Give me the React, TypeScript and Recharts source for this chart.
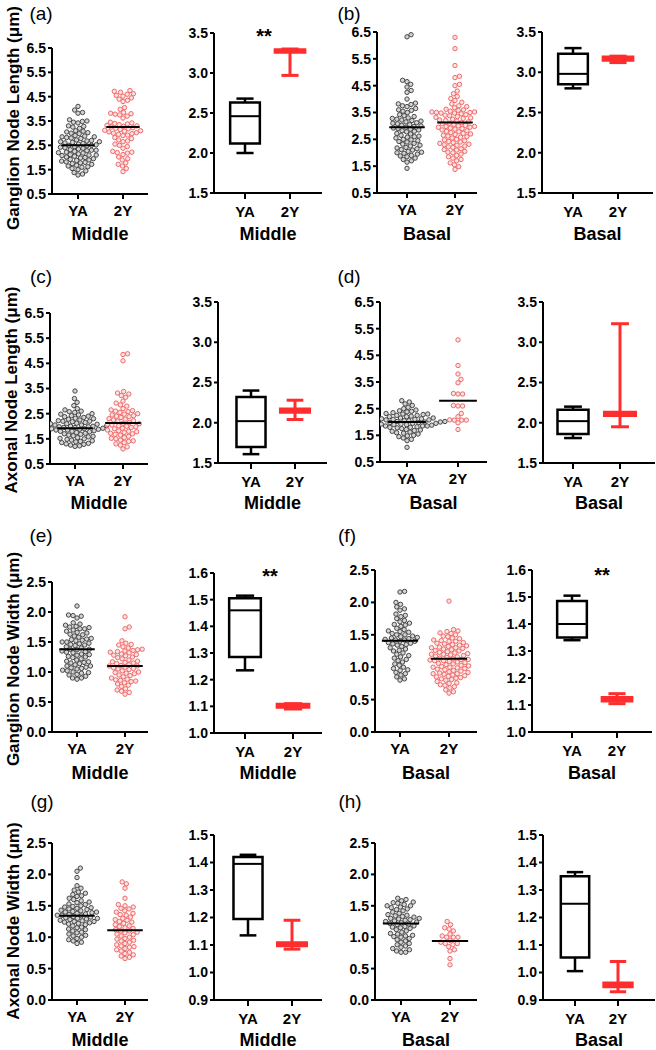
import React from "react";
import {ScatterChart, Scatter, XAxis, YAxis, ReferenceLine, ReferenceArea} from "recharts";

const categories = ["YA", "2Y"];

// tick values
const lengthTicks = [0.5, 1.5, 2.5, 3.5, 4.5, 5.5, 6.5];
const widthTicks = [0, 0.5, 1, 1.5, 2, 2.5];
const lengthBoxTicks = [1.5, 2, 2.5, 3, 3.5];
const ganglionWidthBoxTicks = [1, 1.1, 1.2, 1.3, 1.4, 1.5, 1.6];
const axonalWidthBoxTicks = [0.9, 1, 1.1, 1.2, 1.3, 1.4, 1.5];

// individual nodes (µm)
const ganglionLengthMiddleYA = [
  4.1, 3.95, 3.85, 3.82, 3.55, 3.5, 3.48, 3.45, 3.42, 3.3, 3.28, 3.25, 3.2,
  3.1, 3.08, 3.05, 3.02, 3.0, 2.98, 2.9, 2.88, 2.85, 2.85, 2.82, 2.8, 2.78,
  2.72, 2.7, 2.68, 2.65, 2.65, 2.62, 2.6, 2.58, 2.55, 2.52, 2.5, 2.5, 2.48,
  2.45, 2.42, 2.4, 2.38, 2.35, 2.32, 2.3, 2.3, 2.28, 2.25, 2.22, 2.2, 2.18,
  2.15, 2.12, 2.1, 2.1, 2.08, 2.05, 2.02, 2.0, 1.98, 1.95, 1.92, 1.9, 1.88,
  1.85, 1.82, 1.8, 1.78, 1.75, 1.72, 1.68, 1.65, 1.62, 1.6, 1.55, 1.5, 1.45,
  1.38, 1.32, 1.28
];
const ganglionLengthMiddle2Y = [
  4.75, 4.72, 4.68, 4.62, 4.6, 4.55, 4.52, 4.45, 4.4, 4.35, 4.3, 4.05, 3.98,
  3.85, 3.82, 3.8, 3.78, 3.75, 3.7, 3.62, 3.45, 3.42, 3.4, 3.38, 3.35, 3.32,
  3.3, 3.28, 3.25, 3.22, 3.2, 3.18, 3.15, 3.12, 3.1, 3.08, 3.05, 3.02, 3.0,
  2.98, 2.95, 2.92, 2.9, 2.82, 2.78, 2.72, 2.68, 2.65, 2.55, 2.5, 2.45, 2.38,
  2.25, 2.22, 2.2, 2.18, 2.12, 2.02, 1.95, 1.9, 1.78, 1.72, 1.65, 1.55, 1.42
];
const ganglionLengthBasalYA = [
  6.4, 6.32, 4.7, 4.65, 4.55, 4.45, 4.32, 4.25, 4.0, 3.85, 3.82, 3.8, 3.75,
  3.72, 3.65, 3.6, 3.58, 3.55, 3.5, 3.42, 3.38, 3.35, 3.3, 3.28, 3.25, 3.22,
  3.2, 3.18, 3.15, 3.12, 3.1, 3.08, 3.05, 3.02, 3.0, 2.98, 2.95, 2.92, 2.9,
  2.88, 2.85, 2.82, 2.8, 2.78, 2.72, 2.7, 2.65, 2.62, 2.6, 2.58, 2.55, 2.5,
  2.48, 2.45, 2.42, 2.4, 2.35, 2.32, 2.28, 2.25, 2.2, 2.18, 2.15, 2.12, 2.1,
  2.05, 2.02, 2.0, 1.98, 1.95, 1.9, 1.88, 1.85, 1.8, 1.75, 1.7, 1.65, 1.42
];
const ganglionLengthBasal2Y = [
  6.3, 5.88, 5.25, 4.85, 4.8, 4.55, 4.5, 4.3, 4.2, 4.1, 4.02, 3.95, 3.88,
  3.82, 3.75, 3.72, 3.68, 3.62, 3.6, 3.58, 3.55, 3.55, 3.52, 3.52, 3.5, 3.5,
  3.48, 3.48, 3.45, 3.42, 3.4, 3.38, 3.35, 3.32, 3.3, 3.28, 3.25, 3.22, 3.2,
  3.18, 3.15, 3.12, 3.1, 3.08, 3.05, 3.02, 3.0, 2.98, 2.98, 2.95, 2.95, 2.92,
  2.9, 2.88, 2.85, 2.82, 2.8, 2.78, 2.75, 2.72, 2.7, 2.68, 2.65, 2.62, 2.6,
  2.58, 2.55, 2.5, 2.48, 2.45, 2.42, 2.4, 2.38, 2.35, 2.32, 2.3, 2.28, 2.25,
  2.22, 2.2, 2.15, 2.12, 2.1, 2.05, 2.02, 2.0, 1.95, 1.9, 1.85, 1.8, 1.75,
  1.7, 1.62, 1.55, 1.48, 1.38
];
const axonalLengthMiddleYA = [
  3.4, 3.1, 2.95, 2.82, 2.7, 2.65, 2.6, 2.58, 2.55, 2.5, 2.48, 2.45, 2.42,
  2.4, 2.38, 2.35, 2.32, 2.3, 2.28, 2.25, 2.22, 2.2, 2.2, 2.18, 2.15, 2.12,
  2.1, 2.1, 2.08, 2.05, 2.05, 2.02, 2.0, 2.0, 1.98, 1.98, 1.95, 1.95, 1.92,
  1.92, 1.9, 1.9, 1.88, 1.88, 1.85, 1.85, 1.82, 1.8, 1.8, 1.78, 1.75, 1.72,
  1.7, 1.68, 1.65, 1.62, 1.6, 1.58, 1.55, 1.52, 1.5, 1.48, 1.45, 1.42, 1.4,
  1.38, 1.35, 1.32, 1.3, 1.28, 1.25, 1.22, 1.2
];
const axonalLengthMiddle2Y = [
  4.88, 4.85, 4.6, 3.38, 3.32, 3.28, 3.22, 3.15, 3.0, 2.92, 2.85, 2.8, 2.7,
  2.65, 2.62, 2.6, 2.58, 2.55, 2.5, 2.48, 2.45, 2.42, 2.4, 2.38, 2.35, 2.3,
  2.28, 2.25, 2.22, 2.2, 2.15, 2.12, 2.1, 2.08, 2.05, 2.02, 2.0, 1.98, 1.95,
  1.92, 1.9, 1.85, 1.82, 1.8, 1.78, 1.75, 1.72, 1.7, 1.68, 1.65, 1.6, 1.55,
  1.52, 1.5, 1.45, 1.42, 1.4, 1.35, 1.3, 1.25, 1.18, 1.1
];
const axonalLengthBasalYA = [
  2.8, 2.75, 2.68, 2.62, 2.55, 2.5, 2.45, 2.42, 2.4, 2.38, 2.35, 2.32, 2.3,
  2.3, 2.28, 2.25, 2.25, 2.22, 2.2, 2.2, 2.18, 2.15, 2.15, 2.12, 2.12, 2.1,
  2.1, 2.08, 2.08, 2.05, 2.05, 2.02, 2.02, 2.0, 2.0, 2.0, 1.98, 1.98, 1.95,
  1.95, 1.95, 1.92, 1.92, 1.9, 1.9, 1.88, 1.85, 1.85, 1.85, 1.82, 1.8, 1.8,
  1.78, 1.75, 1.72, 1.7, 1.68, 1.65, 1.62, 1.6, 1.58, 1.55, 1.5, 1.48, 1.45,
  1.4, 1.35, 1.3, 1.05
];
const axonalLengthBasal2Y = [
  5.08, 4.12, 3.8, 3.6, 3.47, 3.07, 3.05, 3.05, 2.62, 2.6, 2.6, 2.32, 2.2,
  2.08, 2.07, 2.07, 2.07, 1.97, 1.72
];
const ganglionWidthMiddleYA = [
  2.1, 1.95, 1.94, 1.93, 1.9, 1.82, 1.8, 1.78, 1.76, 1.75, 1.74, 1.72, 1.72,
  1.7, 1.68, 1.66, 1.65, 1.63, 1.62, 1.6, 1.58, 1.56, 1.55, 1.54, 1.53, 1.52,
  1.5, 1.5, 1.48, 1.47, 1.46, 1.45, 1.44, 1.42, 1.4, 1.38, 1.38, 1.37, 1.35,
  1.34, 1.33, 1.32, 1.3, 1.29, 1.28, 1.26, 1.25, 1.24, 1.22, 1.2, 1.18, 1.17,
  1.16, 1.15, 1.14, 1.12, 1.1, 1.1, 1.08, 1.07, 1.06, 1.05, 1.03, 1.02, 1.0,
  0.99, 0.98, 0.96, 0.95, 0.93, 0.9, 0.9, 0.88
];
const ganglionWidthMiddle2Y = [
  1.92, 1.75, 1.72, 1.52, 1.48, 1.46, 1.45, 1.42, 1.4, 1.38, 1.37, 1.36, 1.35,
  1.34, 1.33, 1.32, 1.3, 1.29, 1.28, 1.27, 1.25, 1.24, 1.22, 1.2, 1.18, 1.17,
  1.16, 1.15, 1.14, 1.12, 1.11, 1.1, 1.1, 1.08, 1.07, 1.06, 1.05, 1.04, 1.02,
  1.0, 0.99, 0.98, 0.97, 0.95, 0.94, 0.92, 0.9, 0.88, 0.87, 0.86, 0.85, 0.84,
  0.82, 0.8, 0.78, 0.76, 0.72, 0.7, 0.68, 0.66, 0.63
];
const ganglionWidthBasalYA = [
  2.17, 2.16, 2.0, 1.97, 1.93, 1.9, 1.88, 1.82, 1.8, 1.78, 1.75, 1.72, 1.7,
  1.68, 1.66, 1.65, 1.63, 1.6, 1.58, 1.56, 1.55, 1.54, 1.52, 1.5, 1.5, 1.48,
  1.47, 1.46, 1.45, 1.44, 1.43, 1.42, 1.42, 1.4, 1.4, 1.38, 1.37, 1.36, 1.35,
  1.34, 1.32, 1.3, 1.28, 1.26, 1.25, 1.22, 1.2, 1.18, 1.16, 1.14, 1.12, 1.1,
  1.08, 1.05, 1.03, 1.0, 0.98, 0.96, 0.95, 0.92, 0.9, 0.88, 0.85, 0.82, 0.8
];
const ganglionWidthBasal2Y = [
  2.02, 1.58, 1.56, 1.55, 1.53, 1.52, 1.5, 1.48, 1.47, 1.45, 1.44, 1.42, 1.41,
  1.4, 1.4, 1.38, 1.37, 1.36, 1.35, 1.34, 1.33, 1.32, 1.31, 1.3, 1.3, 1.29,
  1.28, 1.27, 1.26, 1.25, 1.24, 1.23, 1.22, 1.21, 1.2, 1.2, 1.19, 1.18, 1.17,
  1.16, 1.15, 1.14, 1.13, 1.12, 1.12, 1.11, 1.1, 1.1, 1.09, 1.08, 1.07, 1.06,
  1.05, 1.04, 1.03, 1.02, 1.01, 1.0, 1.0, 0.99, 0.98, 0.97, 0.96, 0.95, 0.94,
  0.93, 0.92, 0.91, 0.9, 0.9, 0.89, 0.88, 0.87, 0.86, 0.85, 0.84, 0.83, 0.82,
  0.81, 0.8, 0.78, 0.76, 0.75, 0.73, 0.72, 0.7, 0.68, 0.65, 0.62, 0.6
];
const axonalWidthMiddleYA = [
  2.1, 2.05, 1.95, 1.82, 1.78, 1.75, 1.72, 1.7, 1.68, 1.66, 1.65, 1.62, 1.6,
  1.58, 1.56, 1.55, 1.53, 1.52, 1.5, 1.49, 1.48, 1.47, 1.46, 1.45, 1.44, 1.43,
  1.42, 1.41, 1.4, 1.4, 1.39, 1.38, 1.37, 1.36, 1.35, 1.35, 1.34, 1.33, 1.32,
  1.31, 1.3, 1.3, 1.29, 1.28, 1.27, 1.26, 1.25, 1.25, 1.24, 1.23, 1.22, 1.21,
  1.2, 1.18, 1.16, 1.15, 1.13, 1.12, 1.1, 1.08, 1.07, 1.05, 1.03, 1.02, 1.0,
  0.98, 0.96, 0.94, 0.92, 0.9
];
const axonalWidthMiddle2Y = [
  1.88, 1.85, 1.78, 1.62, 1.52, 1.5, 1.48, 1.46, 1.45, 1.42, 1.4, 1.38, 1.36,
  1.35, 1.32, 1.3, 1.28, 1.27, 1.25, 1.24, 1.22, 1.2, 1.18, 1.17, 1.15, 1.14,
  1.12, 1.1, 1.1, 1.08, 1.07, 1.05, 1.04, 1.02, 1.0, 0.98, 0.97, 0.95, 0.94,
  0.92, 0.9, 0.88, 0.86, 0.85, 0.84, 0.82, 0.8, 0.78, 0.76, 0.74, 0.72, 0.7,
  0.68, 0.66
];
const axonalWidthBasalYA = [
  1.62, 1.6, 1.58, 1.56, 1.55, 1.54, 1.52, 1.5, 1.5, 1.48, 1.47, 1.45, 1.44,
  1.42, 1.4, 1.38, 1.36, 1.35, 1.34, 1.33, 1.32, 1.3, 1.3, 1.29, 1.28, 1.27,
  1.26, 1.25, 1.24, 1.23, 1.22, 1.21, 1.2, 1.18, 1.17, 1.16, 1.15, 1.14, 1.12,
  1.1, 1.08, 1.06, 1.05, 1.03, 1.02, 1.01, 1.0, 0.98, 0.96, 0.94, 0.92, 0.9,
  0.88, 0.86, 0.84, 0.82, 0.8, 0.78, 0.76, 0.76
];
const axonalWidthBasal2Y = [
  1.25, 1.2, 1.15, 1.13, 1.1, 1.05, 1.02, 1.0, 1.0, 1.0, 0.95, 0.92, 0.9,
  0.9, 0.88, 0.85, 0.8, 0.78, 0.66, 0.56
];

// group means [YA, 2Y]
const ganglionLengthMiddleMeans = [2.5, 3.25];
const ganglionLengthBasalMeans = [2.95, 3.13];
const axonalLengthMiddleMeans = [1.92, 2.13];
const axonalLengthBasalMeans = [2.0, 2.8];
const ganglionWidthMiddleMeans = [1.38, 1.1];
const ganglionWidthBasalMeans = [1.41, 1.13];
const axonalWidthMiddleMeans = [1.34, 1.11];
const axonalWidthBasalMeans = [1.22, 0.94];

// per-animal box stats [min, q1, median, q3, max] for YA, 2Y
const ganglionLengthMiddleBox = [[2.0, 2.12, 2.46, 2.63, 2.68], [2.97, 3.26, 3.28, 3.29, 3.3]];
const ganglionLengthBasalBox = [[2.8, 2.85, 2.98, 3.23, 3.3], [3.12, 3.15, 3.17, 3.19, 3.2]];
const axonalLengthMiddleBox = [[1.61, 1.7, 2.02, 2.32, 2.4], [2.04, 2.13, 2.15, 2.17, 2.28]];
const axonalLengthBasalBox = [[1.81, 1.86, 2.02, 2.16, 2.2], [1.95, 2.09, 2.11, 2.13, 3.23]];
const ganglionWidthMiddleBox = [[1.235, 1.285, 1.46, 1.505, 1.515], [1.09, 1.097, 1.103, 1.108, 1.11]];
const ganglionWidthBasalBox = [[1.34, 1.35, 1.4, 1.485, 1.505], [1.105, 1.115, 1.12, 1.128, 1.142]];
const axonalWidthMiddleBox = [[1.135, 1.195, 1.395, 1.42, 1.428], [1.085, 1.097, 1.103, 1.108, 1.19]];
const axonalWidthBasalBox = [[1.005, 1.055, 1.25, 1.35, 1.365], [0.93, 0.948, 0.955, 0.962, 1.04]];

const FONT = '"Liberation Sans", Arial, Helvetica, sans-serif';
const RED = "#ff2e2e";
const YW = 45;
const MT = 10;
const MR = 3;
const XH = 40;

type Layout = {ax: number; top: number; bottom: number; right: number; p1: number; p2: number};

// simple beeswarm: offsets (px) so that dots of diameter d don't overlap
function swarm(values: number[], pxPerY: number, d: number) {
  const order = values.map((_, i) => i).sort((a, b) => values[a] - values[b]);
  const placed: {x: number; y: number}[] = [];
  const out = new Array(values.length).fill(0);
  for (const i of order) {
    const y = values[i] * pxPerY;
    const near = placed.filter((p) => Math.abs(p.y - y) < d);
    const cands = [0];
    near.forEach((p) => {
      const dx = Math.sqrt(d * d - (p.y - y) ** 2);
      cands.push(p.x + dx, p.x - dx);
    });
    cands.sort((a, b) => Math.abs(a) - Math.abs(b));
    let x = 0;
    for (const c of cands) {
      if (near.every((p) => (p.x - c) ** 2 + (p.y - y) ** 2 >= d * d - 0.01)) {
        x = c;
        break;
      }
    }
    placed.push({x, y});
    out[i] = x;
  }
  return out;
}

function axisProps(L: Layout, domain: number[], ticks: number[], box: boolean) {
  const unit = L.p2 - L.p1;
  const xMin = 1 - (L.p1 - L.ax) / unit;
  const xMax = 2 + (L.right - L.p2) / unit;
  const tick = {fill: "#000", fontSize: 14, fontWeight: 700, fontFamily: FONT};
  const line = {stroke: "#000", strokeWidth: 2};
  return [
    <XAxis
      key="x"
      type="number"
      dataKey="x"
      domain={[xMin, xMax]}
      ticks={[1, 2]}
      interval={0}
      allowDataOverflow
      tickFormatter={(v: number) => categories[Math.round(v) - 1]}
      height={XH}
      tick={{...tick, fontSize: 15}}
      axisLine={line}
      tickLine={line}
      tickSize={box ? 6 : 5}
      tickMargin={box ? 7 : 6}
    />,
    <YAxis
      key="y"
      type="number"
      dataKey="y"
      domain={domain}
      ticks={ticks}
      interval={0}
      allowDataOverflow
      width={YW}
      tickFormatter={(v: number) => v.toFixed(1)}
      tick={tick}
      axisLine={line}
      tickLine={line}
      tickSize={4}
      tickMargin={2}
    />
  ];
}

function Dot(stroke: string, fill: string) {
  return (p: any) => (
    <circle cx={p.cx} cy={p.cy} r={2.2} fill={fill} stroke={stroke} strokeWidth={1} />
  );
}

function SwarmPanel({L, ya, y2, means, domain, ticks}: {L: Layout; ya: number[]; y2: number[]; means: number[]; domain: number[]; ticks: number[]}) {
  const unit = L.p2 - L.p1;
  const plotH = L.bottom - L.top;
  const pxPerY = plotH / (domain[1] - domain[0]);
  const pts = [ya, y2].map((vals, g) => {
    const off = swarm(vals, pxPerY, 4.6);
    return vals.map((v, i) => ({x: g + 1 + off[i] / unit, y: v}));
  });
  const meanPts = means.map((m, i) => ({x: i + 1, y: m}));
  const half = 0.37 * unit;
  const w = L.right - L.ax + YW + MR;
  const h = plotH + MT + XH;
  return (
    <div style={{position: "absolute", left: L.ax - YW, top: L.top - MT}}>
      <ScatterChart width={w} height={h} margin={{top: MT, right: MR, bottom: 0, left: 0}}>
        {axisProps(L, domain, ticks, false)}
        <Scatter data={pts[0]} shape={Dot("#474747", "#d4d4d4")} isAnimationActive={false} />
        <Scatter data={pts[1]} shape={Dot("#f06a6a", "#fde2e2")} isAnimationActive={false} />
        <Scatter
          data={meanPts}
          isAnimationActive={false}
          shape={(p: any) => (
            <line x1={p.cx - half} x2={p.cx + half} y1={p.cy} y2={p.cy} stroke="#000" strokeWidth={2} />
          )}
        />
      </ScatterChart>
    </div>
  );
}

function BoxPanel({L, stats, domain, ticks}: {L: Layout; stats: number[][]; domain: number[]; ticks: number[]}) {
  const plotH = L.bottom - L.top;
  const w = L.right - L.ax + YW + MR;
  const h = plotH + MT + XH;
  const bw = 0.33;
  const cw = 0.19;
  const medians = stats.map((s, i) => ({x: i + 1, y: s[2]}));
  return (
    <div style={{position: "absolute", left: L.ax - YW, top: L.top - MT}}>
      <ScatterChart width={w} height={h} margin={{top: MT, right: MR, bottom: 0, left: 0}}>
        {axisProps(L, domain, ticks, true)}
        <Scatter data={medians} shape={() => <g />} isAnimationActive={false} />
        {stats.map((s, i) => {
          const c = i + 1;
          const col = i === 0 ? "#000" : RED;
          const sw = i === 0 ? 2.5 : 3;
          return [
            <ReferenceLine key={`lw${i}`} segment={[{x: c, y: s[0]}, {x: c, y: s[1]}]} stroke={col} strokeWidth={sw} />,
            <ReferenceLine key={`uw${i}`} segment={[{x: c, y: s[3]}, {x: c, y: s[4]}]} stroke={col} strokeWidth={sw} />,
            <ReferenceLine key={`lc${i}`} segment={[{x: c - cw, y: s[0]}, {x: c + cw, y: s[0]}]} stroke={col} strokeWidth={sw} />,
            <ReferenceLine key={`uc${i}`} segment={[{x: c - cw, y: s[4]}, {x: c + cw, y: s[4]}]} stroke={col} strokeWidth={sw} />,
            <ReferenceArea
              key={`b${i}`}
              x1={c - bw}
              x2={c + bw}
              y1={s[1]}
              y2={s[3]}
              fill="#fff"
              fillOpacity={1}
              stroke={col}
              strokeWidth={sw}
            />,
            <ReferenceLine key={`m${i}`} segment={[{x: c - bw, y: s[2]}, {x: c + bw, y: s[2]}]} stroke={col} strokeWidth={sw - 0.5} />
          ];
        })}
      </ScatterChart>
    </div>
  );
}

const layouts: Record<string, Layout> = {
  aS: {ax: 52, top: 48, bottom: 194, right: 148, p1: 78, p2: 123},
  aB: {ax: 214, top: 33, bottom: 193, right: 322, p1: 245, p2: 290},
  bS: {ax: 377, top: 32, bottom: 193, right: 477, p1: 407, p2: 455},
  bB: {ax: 542, top: 32, bottom: 193, right: 653, p1: 573, p2: 618},
  cS: {ax: 50, top: 313, bottom: 464, right: 148, p1: 75, p2: 123},
  cB: {ax: 218, top: 302, bottom: 463, right: 327, p1: 251, p2: 295},
  dS: {ax: 380, top: 302, bottom: 462, right: 487, p1: 407, p2: 458},
  dB: {ax: 543, top: 302, bottom: 463, right: 655, p1: 573, p2: 620},
  eS: {ax: 52, top: 582, bottom: 732, right: 148, p1: 77, p2: 125},
  eB: {ax: 214, top: 573, bottom: 733, right: 322, p1: 245, p2: 293},
  fS: {ax: 375, top: 570, bottom: 732, right: 477, p1: 400, p2: 449},
  fB: {ax: 532, top: 570, bottom: 732, right: 652, p1: 572, p2: 617},
  gS: {ax: 52, top: 843, bottom: 1000, right: 148, p1: 77, p2: 125},
  gB: {ax: 214, top: 835, bottom: 1000, right: 322, p1: 248, p2: 292},
  hS: {ax: 375, top: 843, bottom: 1000, right: 477, p1: 401, p2: 450},
  hB: {ax: 543, top: 835, bottom: 1000, right: 655, p1: 575, p2: 618}
};

function Txt({x, y, children, size, bold, rotate}: {x: number; y: number; children: React.ReactNode; size: number; bold?: boolean; rotate?: boolean}) {
  return (
    <div
      style={{
        position: "absolute",
        left: x,
        top: y,
        transform: `translate(-50%, -50%)${rotate ? " rotate(-90deg)" : ""}`,
        whiteSpace: "nowrap",
        fontFamily: FONT,
        fontSize: size,
        fontWeight: bold ? 700 : 400,
        lineHeight: 1,
        color: "#000"
      }}
    >
      {children}
    </div>
  );
}

const groupRows = [234, 503, 773, 1040];

export default function App() {
  const L = layouts;
  const mid = (l: Layout) => (l.ax + l.right) / 2;
  const rows = [
    [["aS", "aB", "Middle"], ["bS", "bB", "Basal"]],
    [["cS", "cB", "Middle"], ["dS", "dB", "Basal"]],
    [["eS", "eB", "Middle"], ["fS", "fB", "Basal"]],
    [["gS", "gB", "Middle"], ["hS", "hB", "Basal"]]
  ];
  return (
    <div style={{position: "absolute", left: 0, top: 0, width: 656, height: 1050, background: "#fff", overflow: "hidden"}}>
      <SwarmPanel L={L.aS} ya={ganglionLengthMiddleYA} y2={ganglionLengthMiddle2Y} means={ganglionLengthMiddleMeans} domain={[0.5, 6.5]} ticks={lengthTicks} />
      <BoxPanel L={L.aB} stats={ganglionLengthMiddleBox} domain={[1.5, 3.5]} ticks={lengthBoxTicks} />
      <SwarmPanel L={L.bS} ya={ganglionLengthBasalYA} y2={ganglionLengthBasal2Y} means={ganglionLengthBasalMeans} domain={[0.5, 6.5]} ticks={lengthTicks} />
      <BoxPanel L={L.bB} stats={ganglionLengthBasalBox} domain={[1.5, 3.5]} ticks={lengthBoxTicks} />

      <SwarmPanel L={L.cS} ya={axonalLengthMiddleYA} y2={axonalLengthMiddle2Y} means={axonalLengthMiddleMeans} domain={[0.5, 6.5]} ticks={lengthTicks} />
      <BoxPanel L={L.cB} stats={axonalLengthMiddleBox} domain={[1.5, 3.5]} ticks={lengthBoxTicks} />
      <SwarmPanel L={L.dS} ya={axonalLengthBasalYA} y2={axonalLengthBasal2Y} means={axonalLengthBasalMeans} domain={[0.5, 6.5]} ticks={lengthTicks} />
      <BoxPanel L={L.dB} stats={axonalLengthBasalBox} domain={[1.5, 3.5]} ticks={lengthBoxTicks} />

      <SwarmPanel L={L.eS} ya={ganglionWidthMiddleYA} y2={ganglionWidthMiddle2Y} means={ganglionWidthMiddleMeans} domain={[0, 2.5]} ticks={widthTicks} />
      <BoxPanel L={L.eB} stats={ganglionWidthMiddleBox} domain={[1, 1.6]} ticks={ganglionWidthBoxTicks} />
      <SwarmPanel L={L.fS} ya={ganglionWidthBasalYA} y2={ganglionWidthBasal2Y} means={ganglionWidthBasalMeans} domain={[0, 2.5]} ticks={widthTicks} />
      <BoxPanel L={L.fB} stats={ganglionWidthBasalBox} domain={[1, 1.6]} ticks={ganglionWidthBoxTicks} />

      <SwarmPanel L={L.gS} ya={axonalWidthMiddleYA} y2={axonalWidthMiddle2Y} means={axonalWidthMiddleMeans} domain={[0, 2.5]} ticks={widthTicks} />
      <BoxPanel L={L.gB} stats={axonalWidthMiddleBox} domain={[0.9, 1.5]} ticks={axonalWidthBoxTicks} />
      <SwarmPanel L={L.hS} ya={axonalWidthBasalYA} y2={axonalWidthBasal2Y} means={axonalWidthBasalMeans} domain={[0, 2.5]} ticks={widthTicks} />
      <BoxPanel L={L.hB} stats={axonalWidthBasalBox} domain={[0.9, 1.5]} ticks={axonalWidthBoxTicks} />

      {/* panel letters */}
      <Txt x={41} y={13} size={19}>(a)</Txt>
      <Txt x={349} y={13} size={19}>(b)</Txt>
      <Txt x={41} y={276} size={19}>(c)</Txt>
      <Txt x={349} y={276} size={19}>(d)</Txt>
      <Txt x={41} y={535} size={19}>(e)</Txt>
      <Txt x={347} y={535} size={19}>(f)</Txt>
      <Txt x={42} y={801} size={19}>(g)</Txt>
      <Txt x={350} y={801} size={19}>(h)</Txt>

      {/* y titles */}
      <Txt x={13} y={118} size={17} bold rotate>Ganglion Node Length (μm)</Txt>
      <Txt x={11} y={390} size={17} bold rotate>Axonal Node Length (μm)</Txt>
      <Txt x={13} y={659} size={17} bold rotate>Ganglion Node Width (μm)</Txt>
      <Txt x={13} y={921} size={17} bold rotate>Axonal Node Width (μm)</Txt>

      {/* group labels */}
      {rows.map((row, r) =>
        row.map(([s, b, t]) => [
          <Txt key={s} x={mid(L[s])} y={groupRows[r]} size={18} bold>{t}</Txt>,
          <Txt key={b} x={mid(L[b])} y={groupRows[r]} size={18} bold>{t}</Txt>
        ])
      )}

      {/* significance */}
      <Txt x={264} y={36} size={20} bold>**</Txt>
      <Txt x={270} y={576} size={20} bold>**</Txt>
      <Txt x={602} y={575} size={20} bold>**</Txt>
    </div>
  );
}
